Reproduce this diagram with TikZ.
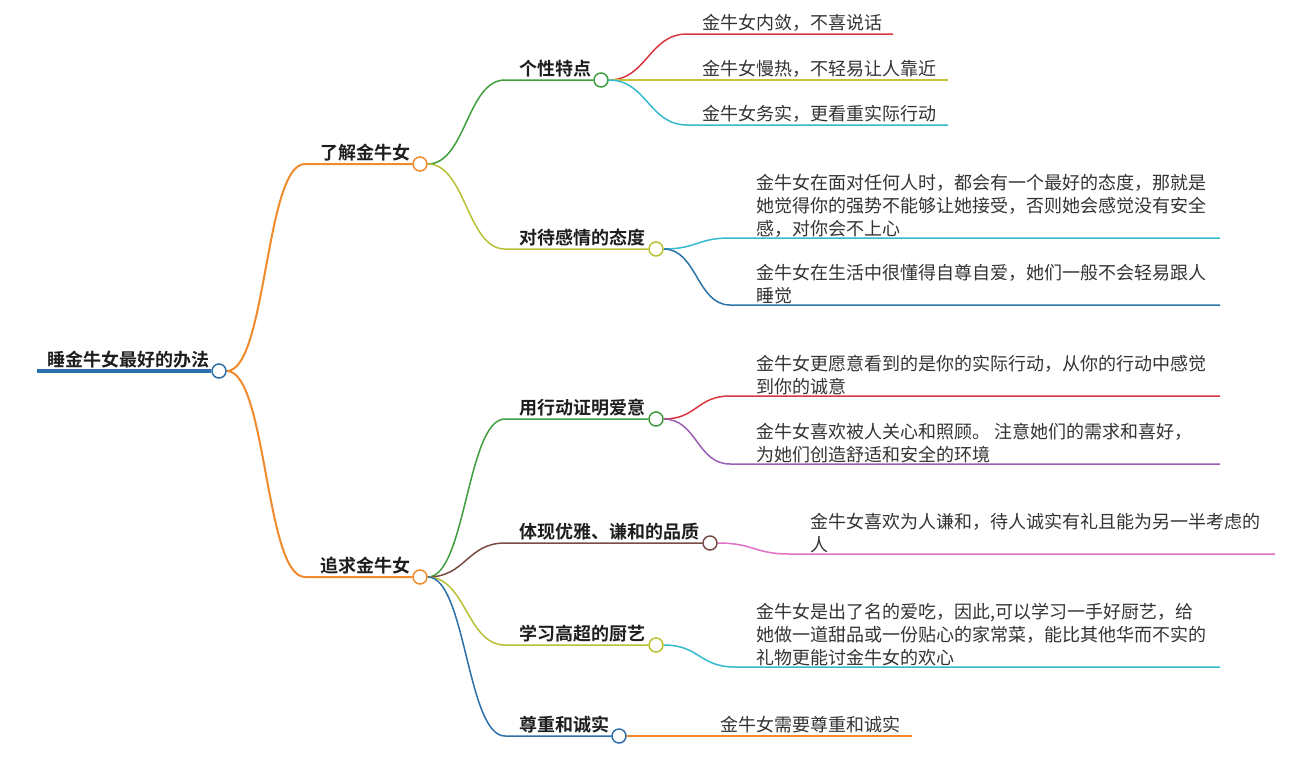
\documentclass[tikz,border=0pt]{standalone}
\usepackage{fontspec}
\setmainfont{Noto Sans CJK SC}[BoldFont={* Bold}]
\usetikzlibrary{calc}
\pgfdeclarelayer{bg}
\pgfsetlayers{bg,main}
\definecolor{cblue}{HTML}{2C6FAA}
\definecolor{corange}{HTML}{F08A2C}
\definecolor{cgreen}{HTML}{3E9E3E}
\definecolor{colive}{HTML}{B8C034}
\definecolor{cyellow}{HTML}{C8C236}
\definecolor{cred}{HTML}{D9363E}
\definecolor{ccyan}{HTML}{35B9CF}
\definecolor{cdblue}{HTML}{2C73A6}
\definecolor{cpurple}{HTML}{9B5CB4}
\definecolor{cbrown}{HTML}{7A4B45}
\definecolor{cpink}{HTML}{E070C8}
\definecolor{ctext}{HTML}{333333}
\definecolor{cbold}{HTML}{1E1E1E}
\tikzset{
  dot/.style={circle, draw, fill=white, minimum size=14pt, line width=1.5pt, inner sep=0pt},
  lbl/.style={font=\fontsize{18}{23}\selectfont\bfseries, text=cbold, anchor=base west, inner sep=0pt},
  leaf/.style={font=\fontsize{18}{23}\selectfont, text=ctext, anchor=base west, align=left, inner sep=0pt},
  eone/.style={line width=2pt},
  etwo/.style={line width=1.5pt},
  sbend/.style={to path={.. controls ($(\tikztostart)+(#1,0)$) and ($(\tikztotarget)+(-#1,0)$) .. (\tikztotarget)}}
}
\begin{document}
\begin{tikzpicture}[x=1pt,y=-1pt]
\useasboundingbox (0,0) rectangle (1305,758);
% circles
\node[dot, draw=cblue] (root) at (219,371) {};
\node[dot, draw=corange] (k1) at (420,164) {};
\node[dot, draw=corange] (k2) at (420,577) {};
\node[dot, draw=cgreen] (k11) at (601,80) {};
\node[dot, draw=colive] (k12) at (656,249) {};
\node[dot, draw=cgreen] (k21) at (656,419) {};
\node[dot, draw=cbrown] (k22) at (710,543) {};
\node[dot, draw=colive] (k23) at (656,645) {};
\node[dot, draw=cblue] (k24) at (619,736) {};
% labels
\node[lbl] (t0) at (47,366) {睡金牛女最好的办法};
\node[lbl] (t1) at (320,159) {了解金牛女};
\node[lbl] (t2) at (320,572) {追求金牛女};
\node[lbl] (t11) at (519,75) {个性特点};
\node[lbl] (t12) at (519,244) {对待感情的态度};
\node[lbl] (t21) at (519,414) {用行动证明爱意};
\node[lbl] (t22) at (519,538) {体现优雅、谦和的品质};
\node[lbl] (t23) at (519,640) {学习高超的厨艺};
\node[lbl] (t24) at (519,731) {尊重和诚实};
% leaves
\node[leaf] (l111) at (702,29) {金牛女内敛，不喜说话};
\node[leaf] (l112) at (702,75) {金牛女慢热，不轻易让人靠近};
\node[leaf] (l113) at (702,120) {金牛女务实，更看重实际行动};
\node[leaf] (l121) at (756,235) {金牛女在面对任何人时，都会有一个最好的态度，那就是\\她觉得你的强势不能够让她接受，否则她会感觉没有安全\\感，对你会不上心};
\node[leaf] (l122) at (756,302) {金牛女在生活中很懂得自尊自爱，她们一般不会轻易跟人\\睡觉};
\node[leaf] (l211) at (756,393) {金牛女更愿意看到的是你的实际行动，从你的行动中感觉\\到你的诚意};
\node[leaf] (l212) at (756,461) {金牛女喜欢被人关心和照顾。 注意她们的需求和喜好，\\为她们创造舒适和安全的环境};
\node[leaf] (l221) at (810,551) {金牛女喜欢为人谦和，待人诚实有礼且能为另一半考虑的\\人};
\node[leaf] (l231) at (756,664) {金牛女是出了名的爱吃，因此,可以学习一手好厨艺，给\\她做一道甜品或一份贴心的家常菜，能比其他华而不实的\\礼物更能讨金牛女的欢心};
\node[leaf] (l241) at (720,731) {金牛女需要尊重和诚实};
% connector points
\coordinate (r0) at (37,371);
\coordinate (s1) at (305,164);
\coordinate (s2) at (305,577);
\coordinate (s11) at (505,80);
\coordinate (s12) at (505,249);
\coordinate (s21) at (505,419);
\coordinate (s22) at (505,543);
\coordinate (s23) at (505,645);
\coordinate (s24) at (505,736);
\coordinate (a1) at (687,34);   \coordinate (b1) at (893,34);
\coordinate (b2) at (948,80);
\coordinate (a3) at (687,125);  \coordinate (b3) at (948,125);
\coordinate (a4) at (730,238);  \coordinate (b4) at (1220,238);
\coordinate (a5) at (730,305);  \coordinate (b5) at (1220,305);
\coordinate (a6) at (730,396);  \coordinate (b6) at (1220,396);
\coordinate (a7) at (730,464);  \coordinate (b7) at (1220,464);
\coordinate (a8) at (790,554);  \coordinate (b8) at (1275,554);
\coordinate (a9) at (735,667);  \coordinate (b9) at (1220,667);
\coordinate (b10) at (912,736);
\begin{pgfonlayer}{bg}
\draw[cblue, line width=4pt] (r0) -- (root);
\draw[corange, eone] (root.east) to[sbend=40] (s1) -- (k1);
\draw[corange, eone] (root.east) to[sbend=40] (s2) -- (k2);
\draw[cgreen, etwo] (k1.east) to[sbend=38] (s11) -- (k11);
\draw[colive, etwo] (k1.east) to[sbend=38] (s12) -- (k12);
\draw[cgreen, etwo] (k2.east) to[sbend=38] (s21) -- (k21);
\draw[cbrown, etwo] (k2.east) to[sbend=38] (s22) -- (k22);
\draw[colive, etwo] (k2.east) to[sbend=38] (s23) -- (k23);
\draw[cblue, etwo] (k2.east) to[sbend=38] (s24) -- (k24);
\draw[cred, etwo] (k11.east) to[sbend=38] (a1) -- (b1);
\draw[cyellow, etwo] (k11.east) -- (b2);
\draw[ccyan, etwo] (k11.east) to[sbend=38] (a3) -- (b3);
\draw[ccyan, etwo] (k12.east) to[sbend=33] (a4) -- (b4);
\draw[cdblue, etwo] (k12.east) to[sbend=33] (a5) -- (b5);
\draw[cred, etwo] (k21.east) to[sbend=33] (a6) -- (b6);
\draw[cpurple, etwo] (k21.east) to[sbend=33] (a7) -- (b7);
\draw[cpink, etwo] (k22.east) to[sbend=36] (a8) -- (b8);
\draw[ccyan, etwo] (k23.east) to[sbend=36] (a9) -- (b9);
\draw[corange, etwo] (k24.east) -- (b10);
\end{pgfonlayer}
\end{tikzpicture}
\end{document}
